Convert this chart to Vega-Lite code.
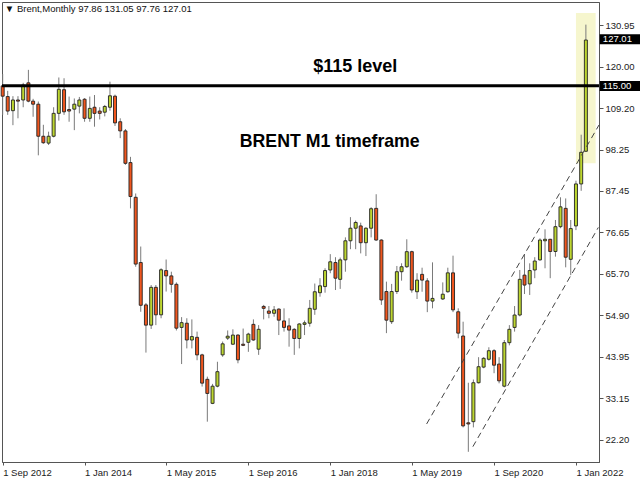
{
  "$schema": "https://vega.github.io/schema/vega-lite/v6.json",
  "width": 597,
  "height": 460,
  "autosize": {"type": "none"},
  "padding": {"left": 2, "top": 2, "right": 41, "bottom": 18},
  "background": "white",
  "config": {"view": {"stroke": "#555", "strokeWidth": 1}, "font": "Liberation Sans"},
  "layer": [
    {
      "data": {"values": [{"x1": "2022-01-01", "x2": "2022-04-28", "y1": 94.7, "y2": 134.1}], "format": {"parse": {"x1": "date:'%Y-%m-%d'", "x2": "date:'%Y-%m-%d'"}}},
      "mark": {"type": "rect", "color": "#F6F6CE"},
      "encoding": {
        "x": {"field": "x1", "type": "temporal",
          "scale": {"domain": [{"year": 2012, "month": "aug", "date": 28}, {"year": 2022, "month": "may", "date": 18}], "nice": false, "padding": 0},
          "axis": {"title": null, "grid": false, "values": [
            {"year": 2012, "month": "sep", "date": 1}, {"year": 2014, "month": "jan", "date": 1}, {"year": 2015, "month": "may", "date": 1}, {"year": 2016, "month": "sep", "date": 1},
            {"year": 2018, "month": "jan", "date": 1}, {"year": 2019, "month": "may", "date": 1}, {"year": 2020, "month": "sep", "date": 1}, {"year": 2022, "month": "jan", "date": 1}],
            "format": "%-d %b %Y", "labelAlign": "left", "labelFontSize": 9.5, "labelColor": "#222", "tickSize": 3, "tickColor": "#555", "domainColor": "#555", "labelPadding": 2, "labelFlush": false, "labelBound": false, "labelOverlap": false}},
        "x2": {"field": "x2"},
        "y": {"field": "y1", "type": "quantitative",
          "scale": {"domain": [16.43, 136.98], "zero": false, "nice": false, "padding": 0},
          "axis": {"title": null, "orient": "right", "grid": false, "values": [130.95, 120, 109.2, 98.25, 87.45, 76.65, 65.7, 54.9, 43.95, 33.15, 22.2],
            "format": ".2f", "labelFontSize": 9.5, "labelColor": "#222", "tickSize": 4, "tickColor": "#555", "domainColor": "#555", "labelPadding": 2, "labelFlush": false, "labelOverlap": false}},
        "y2": {"field": "y2"}
      }
    },
    {
      "data": {"name": "candles", "values": [
        {"d": "2012-09", "o": 115.0, "h": 118.1, "l": 107.4, "c": 112.3},
        {"d": "2012-10", "o": 112.2, "h": 113.7, "l": 107.4, "c": 108.4},
        {"d": "2012-11", "o": 108.5, "h": 112.3, "l": 104.7, "c": 111.3},
        {"d": "2012-12", "o": 111.3, "h": 112.3, "l": 106.5, "c": 111.0},
        {"d": "2013-01", "o": 111.3, "h": 115.8, "l": 109.4, "c": 115.2},
        {"d": "2013-02", "o": 115.8, "h": 119.2, "l": 110.7, "c": 111.0},
        {"d": "2013-03", "o": 111.0, "h": 111.6, "l": 106.9, "c": 110.2},
        {"d": "2013-04", "o": 110.2, "h": 110.9, "l": 96.8, "c": 101.8},
        {"d": "2013-05", "o": 101.8, "h": 104.8, "l": 99.8, "c": 100.1},
        {"d": "2013-06", "o": 100.0, "h": 103.0, "l": 99.5, "c": 101.8},
        {"d": "2013-07", "o": 101.8, "h": 109.4, "l": 101.5, "c": 107.8},
        {"d": "2013-08", "o": 107.8, "h": 117.2, "l": 105.9, "c": 114.1},
        {"d": "2013-09", "o": 114.0, "h": 117.0, "l": 107.4, "c": 108.2},
        {"d": "2013-10", "o": 108.8, "h": 112.2, "l": 105.6, "c": 108.4},
        {"d": "2013-11", "o": 108.9, "h": 111.7, "l": 103.4, "c": 110.2},
        {"d": "2013-12", "o": 109.7, "h": 112.1, "l": 107.8, "c": 111.3},
        {"d": "2014-01", "o": 111.5, "h": 111.8, "l": 105.6, "c": 106.5},
        {"d": "2014-02", "o": 106.5, "h": 112.2, "l": 105.6, "c": 109.1},
        {"d": "2014-03", "o": 109.4, "h": 112.6, "l": 104.3, "c": 107.8},
        {"d": "2014-04", "o": 108.4, "h": 109.4, "l": 106.2, "c": 107.8},
        {"d": "2014-05", "o": 108.1, "h": 110.0, "l": 107.0, "c": 109.6},
        {"d": "2014-06", "o": 109.4, "h": 116.1, "l": 108.5, "c": 112.4},
        {"d": "2014-07", "o": 112.3, "h": 112.7, "l": 104.5, "c": 105.3},
        {"d": "2014-08", "o": 105.6, "h": 106.5, "l": 101.3, "c": 103.2},
        {"d": "2014-09", "o": 103.2, "h": 103.7, "l": 94.3, "c": 94.7},
        {"d": "2014-10", "o": 94.9, "h": 96.4, "l": 82.9, "c": 86.0},
        {"d": "2014-11", "o": 85.8, "h": 86.8, "l": 67.6, "c": 68.3},
        {"d": "2014-12", "o": 68.7, "h": 72.9, "l": 55.8, "c": 57.5},
        {"d": "2015-01", "o": 57.6, "h": 58.1, "l": 45.1, "c": 52.3},
        {"d": "2015-02", "o": 52.3, "h": 62.8, "l": 51.3, "c": 62.2},
        {"d": "2015-03", "o": 62.2, "h": 62.8, "l": 52.3, "c": 55.0},
        {"d": "2015-04", "o": 55.0, "h": 67.2, "l": 54.1, "c": 66.8},
        {"d": "2015-05", "o": 66.6, "h": 69.5, "l": 61.1, "c": 65.2},
        {"d": "2015-06", "o": 65.2, "h": 66.3, "l": 60.8, "c": 63.0},
        {"d": "2015-07", "o": 63.0, "h": 63.5, "l": 50.9, "c": 51.5},
        {"d": "2015-08", "o": 51.7, "h": 54.4, "l": 42.1, "c": 52.95},
        {"d": "2015-09", "o": 52.8, "h": 54.1, "l": 46.2, "c": 48.4},
        {"d": "2015-10", "o": 48.4, "h": 53.8, "l": 46.2, "c": 49.3},
        {"d": "2015-11", "o": 49.1, "h": 50.6, "l": 43.1, "c": 44.5},
        {"d": "2015-12", "o": 44.5, "h": 44.8, "l": 36.2, "c": 37.1},
        {"d": "2016-01", "o": 38.1, "h": 38.8, "l": 27.0, "c": 34.4},
        {"d": "2016-02", "o": 31.8, "h": 36.9, "l": 31.6, "c": 36.3},
        {"d": "2016-03", "o": 36.3, "h": 42.7, "l": 36.0, "c": 40.1},
        {"d": "2016-04", "o": 44.5, "h": 48.0, "l": 44.0, "c": 47.4},
        {"d": "2016-05", "o": 48.9, "h": 50.9, "l": 48.4, "c": 49.4},
        {"d": "2016-06", "o": 47.3, "h": 51.2, "l": 47.1, "c": 49.7},
        {"d": "2016-07", "o": 49.7, "h": 49.9, "l": 42.3, "c": 43.2},
        {"d": "2016-08", "o": 47.3, "h": 51.4, "l": 46.8, "c": 47.0},
        {"d": "2016-09", "o": 47.8, "h": 50.3, "l": 45.3, "c": 49.95},
        {"d": "2016-10", "o": 52.5, "h": 53.8, "l": 48.2, "c": 48.4},
        {"d": "2016-11", "o": 46.0, "h": 52.3, "l": 44.5, "c": 51.2},
        {"d": "2016-12", "o": 57.2, "h": 57.6, "l": 53.8, "c": 56.7},
        {"d": "2017-01", "o": 56.0, "h": 57.3, "l": 54.1, "c": 55.4},
        {"d": "2017-02", "o": 55.4, "h": 57.3, "l": 54.5, "c": 56.3},
        {"d": "2017-03", "o": 56.5, "h": 56.7, "l": 49.7, "c": 53.6},
        {"d": "2017-04", "o": 53.4, "h": 56.7, "l": 50.6, "c": 51.7},
        {"d": "2017-05", "o": 52.1, "h": 54.1, "l": 46.65, "c": 51.0},
        {"d": "2017-06", "o": 51.2, "h": 51.5, "l": 44.5, "c": 48.8},
        {"d": "2017-07", "o": 48.8, "h": 52.8, "l": 46.2, "c": 52.6},
        {"d": "2017-08", "o": 52.5, "h": 53.5, "l": 49.7, "c": 52.9},
        {"d": "2017-09", "o": 52.8, "h": 58.9, "l": 51.9, "c": 56.7},
        {"d": "2017-10", "o": 56.45, "h": 63.2, "l": 55.0, "c": 61.05},
        {"d": "2017-11", "o": 60.8, "h": 64.6, "l": 59.75, "c": 62.6},
        {"d": "2017-12", "o": 62.4, "h": 67.2, "l": 60.8, "c": 66.6},
        {"d": "2018-01", "o": 66.75, "h": 70.9, "l": 65.9, "c": 68.9},
        {"d": "2018-02", "o": 68.7, "h": 70.1, "l": 61.5, "c": 64.6},
        {"d": "2018-03", "o": 64.3, "h": 70.0, "l": 61.8, "c": 69.4},
        {"d": "2018-04", "o": 69.4, "h": 75.3, "l": 66.3, "c": 74.4},
        {"d": "2018-05", "o": 74.4, "h": 80.6, "l": 72.2, "c": 77.7},
        {"d": "2018-06", "o": 77.7, "h": 79.7, "l": 72.2, "c": 79.2},
        {"d": "2018-07", "o": 78.3, "h": 79.15, "l": 71.1, "c": 73.9},
        {"d": "2018-08", "o": 73.9, "h": 77.95, "l": 70.4, "c": 77.7},
        {"d": "2018-09", "o": 77.7, "h": 83.2, "l": 75.3, "c": 82.8},
        {"d": "2018-10", "o": 82.9, "h": 86.6, "l": 74.4, "c": 74.6},
        {"d": "2018-11", "o": 74.6, "h": 74.8, "l": 57.6, "c": 58.9},
        {"d": "2018-12", "o": 61.1, "h": 63.7, "l": 50.2, "c": 53.6},
        {"d": "2019-01", "o": 53.2, "h": 63.1, "l": 52.6, "c": 61.1},
        {"d": "2019-02", "o": 61.1, "h": 67.8, "l": 60.45, "c": 66.3},
        {"d": "2019-03", "o": 66.3, "h": 68.5, "l": 63.95, "c": 67.6},
        {"d": "2019-04", "o": 67.6, "h": 74.8, "l": 67.3, "c": 71.55},
        {"d": "2019-05", "o": 71.55, "h": 71.8, "l": 60.8, "c": 61.5},
        {"d": "2019-06", "o": 61.05, "h": 65.9, "l": 59.15, "c": 64.1},
        {"d": "2019-07", "o": 65.6, "h": 67.35, "l": 61.05, "c": 64.1},
        {"d": "2019-08", "o": 63.9, "h": 64.6, "l": 55.7, "c": 58.6},
        {"d": "2019-09", "o": 58.6, "h": 68.75, "l": 56.7, "c": 59.3},
        {"d": "2019-11", "o": 59.15, "h": 63.5, "l": 58.9, "c": 60.4},
        {"d": "2019-12", "o": 61.05, "h": 67.35, "l": 60.8, "c": 66.0},
        {"d": "2020-01", "o": 66.0, "h": 70.5, "l": 55.7, "c": 56.3},
        {"d": "2020-02", "o": 55.8, "h": 56.7, "l": 48.85, "c": 50.2},
        {"d": "2020-03", "o": 49.45, "h": 53.2, "l": 25.5, "c": 25.9},
        {"d": "2020-04", "o": 26.7, "h": 37.2, "l": 19.1, "c": 26.4},
        {"d": "2020-05", "o": 27.0, "h": 38.05, "l": 25.5, "c": 37.2},
        {"d": "2020-06", "o": 37.2, "h": 43.9, "l": 37.0, "c": 41.4},
        {"d": "2020-07", "o": 41.3, "h": 43.9, "l": 41.0, "c": 43.6},
        {"d": "2020-08", "o": 43.35, "h": 46.5, "l": 43.0, "c": 45.6},
        {"d": "2020-09", "o": 45.6, "h": 46.0, "l": 39.7, "c": 41.8},
        {"d": "2020-10", "o": 42.1, "h": 43.9, "l": 37.05, "c": 37.7},
        {"d": "2020-11", "o": 36.3, "h": 48.4, "l": 36.0, "c": 47.7},
        {"d": "2020-12", "o": 47.7, "h": 52.3, "l": 47.0, "c": 51.2},
        {"d": "2021-01", "o": 51.7, "h": 57.3, "l": 50.6, "c": 54.95},
        {"d": "2021-02", "o": 54.95, "h": 66.75, "l": 54.6, "c": 64.3},
        {"d": "2021-03", "o": 65.4, "h": 70.9, "l": 60.45, "c": 62.8},
        {"d": "2021-04", "o": 63.1, "h": 68.5, "l": 60.2, "c": 66.6},
        {"d": "2021-05", "o": 66.75, "h": 70.1, "l": 64.6, "c": 69.1},
        {"d": "2021-06", "o": 69.4, "h": 75.05, "l": 69.2, "c": 74.6},
        {"d": "2021-07", "o": 74.4, "h": 77.4, "l": 67.2, "c": 74.8},
        {"d": "2021-08", "o": 74.8, "h": 74.9, "l": 64.6, "c": 71.6},
        {"d": "2021-09", "o": 71.6, "h": 79.85, "l": 70.25, "c": 78.1},
        {"d": "2021-10", "o": 78.1, "h": 85.8, "l": 77.7, "c": 83.3},
        {"d": "2021-11", "o": 82.9, "h": 85.5, "l": 67.45, "c": 70.1},
        {"d": "2021-12", "o": 69.55, "h": 79.85, "l": 65.4, "c": 77.6},
        {"d": "2022-01", "o": 78.3, "h": 90.15, "l": 77.2, "c": 89.3},
        {"d": "2022-02", "o": 89.3, "h": 102.2, "l": 87.5, "c": 97.6},
        {"d": "2022-03", "o": 97.86, "h": 131.05, "l": 97.76, "c": 127.01}
      ], "format": {"parse": {"d": "date:'%Y-%m'"}}},
      "layer": [
        {
          "mark": {"type": "rule", "color": "#7a7a7a", "strokeWidth": 1},
          "encoding": {
            "x": {"field": "d", "type": "temporal"},
            "y": {"field": "l", "type": "quantitative"},
            "y2": {"field": "h"}
          }
        },
        {
          "mark": {"type": "bar", "size": 3, "stroke": "#222", "strokeWidth": 0.9},
          "encoding": {
            "x": {"field": "d", "type": "temporal"},
            "y": {"field": "o", "type": "quantitative"},
            "y2": {"field": "c"},
            "fill": {"condition": {"test": "datum.c >= datum.o", "value": "#BDD630"}, "value": "#F0561E"}
          }
        }
      ]
    },
    {
      "data": {"values": [{"lvl": 115}]},
      "mark": {"type": "rule", "color": "#000", "strokeWidth": 3},
      "encoding": {"y": {"field": "lvl", "type": "quantitative"}}
    },
    {
      "data": {"values": [
        {"ln": "upper", "d": "2019-07-28", "p": 26.4},
        {"ln": "upper", "d": "2022-05-18", "p": 104.75},
        {"ln": "lower", "d": "2020-04-28", "p": 20.45},
        {"ln": "lower", "d": "2022-05-14", "p": 77.9}
      ], "format": {"parse": {"d": "date:'%Y-%m-%d'"}}},
      "mark": {"type": "line", "color": "#444", "strokeWidth": 1, "strokeDash": [6, 4]},
      "encoding": {
        "x": {"field": "d", "type": "temporal"},
        "y": {"field": "p", "type": "quantitative"},
        "detail": {"field": "ln"}
      }
    },
    {
      "data": {"values": [
        {"d": "2018-05-30", "p": 118.7, "t": "$115 level", "fs": 18},
        {"d": "2017-12-29", "p": 99.06, "t": "BRENT M1 timeframe", "fs": 17.7}
      ], "format": {"parse": {"d": "date:'%Y-%m-%d'"}}},
      "mark": {"type": "text", "fontWeight": "bold", "font": "Liberation Sans", "align": "center", "baseline": "alphabetic", "color": "#000", "fontSize": 18},
      "encoding": {
        "x": {"field": "d", "type": "temporal"},
        "y": {"field": "p", "type": "quantitative"},
        "text": {"field": "t"},
        "size": {"field": "fs", "type": "quantitative", "scale": null, "legend": null}
      }
    },
    {
      "data": {"values": [{"d": "2012-09-14", "p": 134.28, "t": "▼ Brent,Monthly  97.86 131.05 97.76 127.01"}], "format": {"parse": {"d": "date:'%Y-%m-%d'"}}},
      "mark": {"type": "text", "align": "left", "baseline": "alphabetic", "fontSize": 9.5, "color": "#111", "font": "Liberation Sans"},
      "encoding": {
        "x": {"field": "d", "type": "temporal"},
        "y": {"field": "p", "type": "quantitative"},
        "text": {"field": "t"}
      }
    },
    {
      "data": {"values": [
        {"x1": "2022-05-22", "x2": "2023-02-01", "y1": 125.9, "y2": 128.5, "tx": "2022-06-10", "ym": 127.2, "t": "127.01"},
        {"x1": "2022-05-22", "x2": "2023-02-01", "y1": 113.65, "y2": 116.3, "tx": "2022-06-10", "ym": 114.97, "t": "115.00"}
      ], "format": {"parse": {"x1": "date:'%Y-%m-%d'", "x2": "date:'%Y-%m-%d'", "tx": "date:'%Y-%m-%d'"}}},
      "layer": [
        {
          "mark": {"type": "rect", "color": "#000"},
          "encoding": {
            "x": {"field": "x1", "type": "temporal"},
            "x2": {"field": "x2"},
            "y": {"field": "y1", "type": "quantitative"},
            "y2": {"field": "y2"}
          }
        },
        {
          "mark": {"type": "text", "align": "left", "baseline": "middle", "color": "#fff", "fontSize": 9.5, "font": "Liberation Sans"},
          "encoding": {
            "x": {"field": "tx", "type": "temporal"},
            "y": {"field": "ym", "type": "quantitative"},
            "text": {"field": "t"}
          }
        }
      ]
    }
  ]
}
